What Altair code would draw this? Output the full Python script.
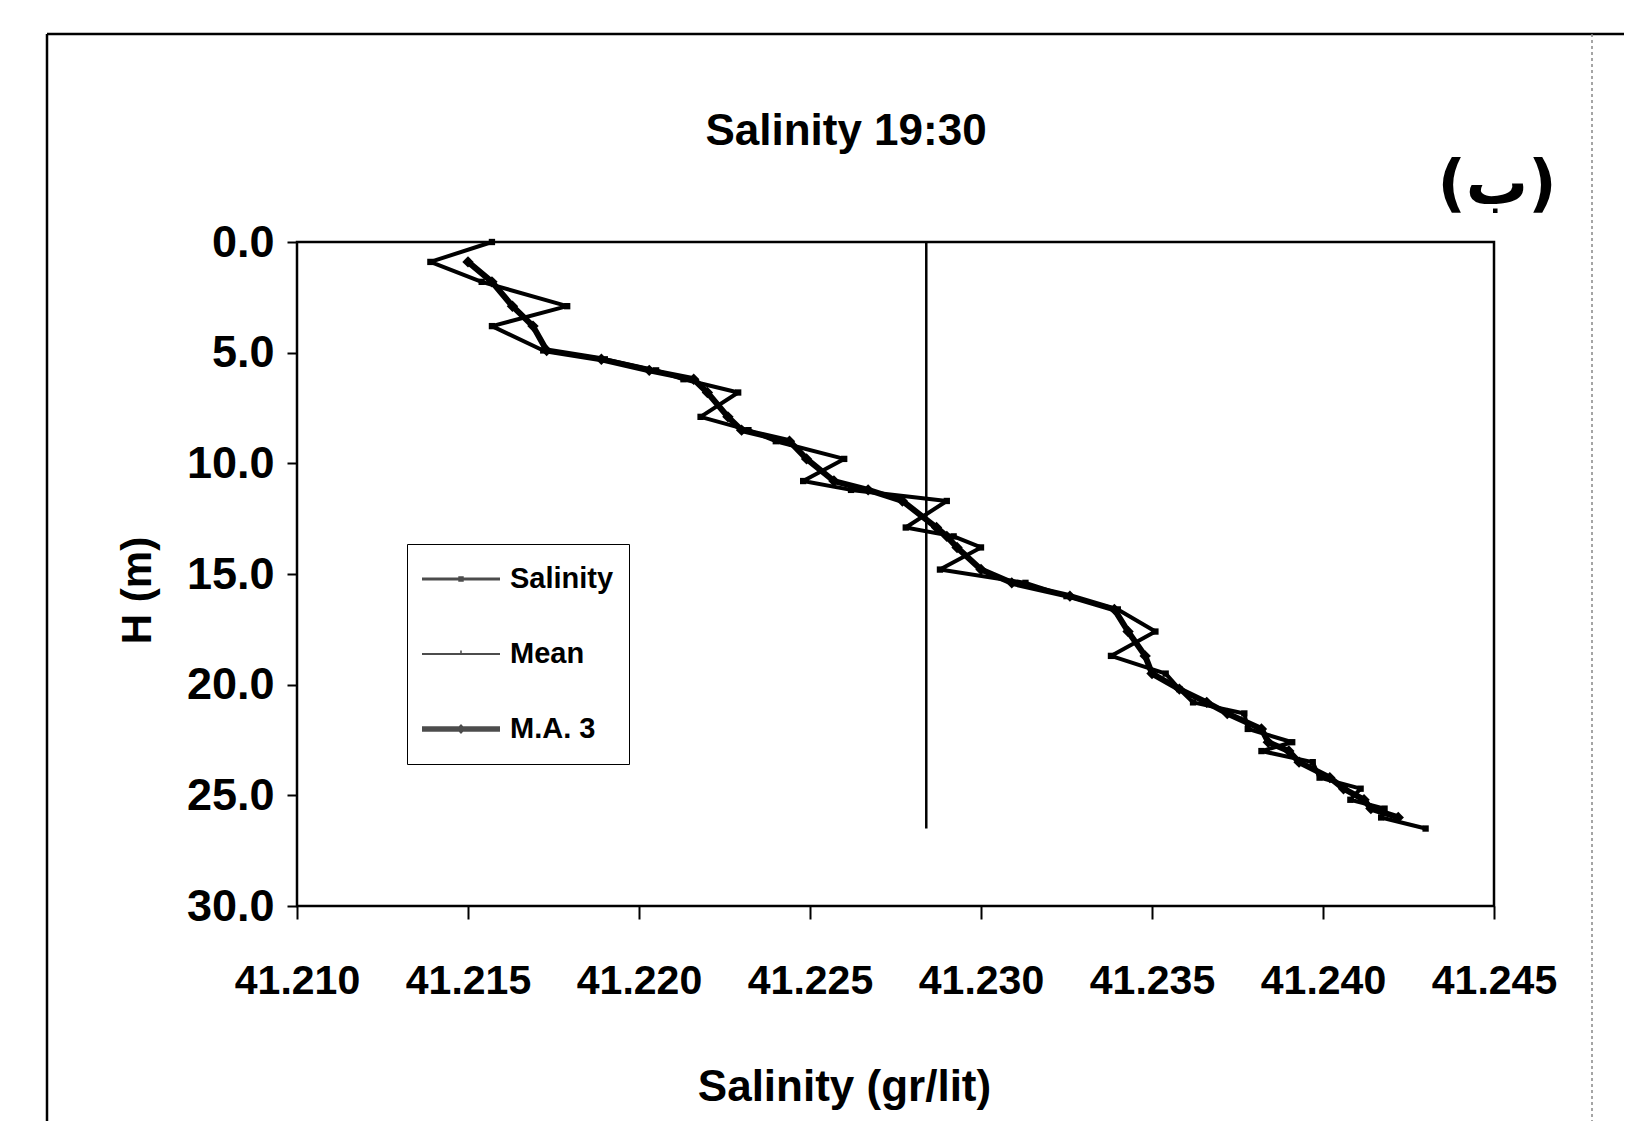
import altair as alt
import pandas as pd

# ---------------- data ----------------
sal_depth = [0.0, 0.9, 1.8, 2.9, 3.8, 4.9, 5.3, 5.8, 6.2, 6.8, 7.9, 8.5, 9.0, 9.8, 10.8,
             11.2, 11.7, 12.9, 13.3, 13.8, 14.8, 15.4, 16.0, 16.6, 17.6, 18.7, 19.5, 20.2,
             20.8, 21.3, 22.0, 22.6, 23.0, 23.5, 24.2, 24.7, 25.2, 25.6, 26.0, 26.5]
sal_values = [41.2157, 41.2139, 41.2154, 41.2179, 41.2157, 41.2172, 41.2190, 41.2205, 41.2213,
              41.2229, 41.2218, 41.2232, 41.2240, 41.2260, 41.2248, 41.2262, 41.2290, 41.2278,
              41.2292, 41.2300, 41.2288, 41.2313, 41.2325, 41.2340, 41.2351, 41.2338, 41.2354,
              41.2358, 41.2362, 41.2377, 41.2378, 41.2391, 41.2382, 41.2397, 41.2399, 41.2411,
              41.2408, 41.2418, 41.2417, 41.2430]

ma_depth = [0.9, 1.8, 2.9, 3.8, 4.9, 5.3, 5.8, 6.2, 6.8, 7.9, 8.5, 9.0, 9.8, 10.8, 11.2, 11.7,
            12.9, 13.3, 13.8, 14.8, 15.4, 16.0, 16.6, 17.6, 18.7, 19.5, 20.2, 20.8, 21.3, 22.0,
            22.6, 23.0, 23.5, 24.2, 24.7, 25.2, 25.6, 26.0]
ma_values = [41.2150, 41.2157, 41.2163, 41.2169, 41.2173, 41.2189, 41.2203, 41.2216, 41.2220,
             41.2226, 41.2230, 41.2244, 41.2249, 41.2257, 41.2267, 41.2277, 41.2287, 41.2290,
             41.2293, 41.2300, 41.2309, 41.2326, 41.2339, 41.2343, 41.2348, 41.2350, 41.2358,
             41.2366, 41.2372, 41.2382, 41.2384, 41.2390, 41.2393, 41.2402, 41.2406, 41.2412,
             41.2414, 41.2422]

mean_value = 41.2284
mean_depth = [0.0, 26.5]

series_names = ["Salinity", "Mean", "M.A. 3"]
x_ticks = [41.210, 41.215, 41.220, 41.225, 41.230, 41.235, 41.240, 41.245]
y_ticks = [0, 5, 10, 15, 20, 25, 30]
chart_title = ["Salinity 19:30"]
x_title = "Salinity (gr/lit)"
y_title = "H (m)"
corner_label = ["(ب)"]

# ---------------- table ----------------
rows = []
for i, (d, v) in enumerate(zip(sal_depth, sal_values)):
    rows.append({"series": "Salinity", "depth": d, "sal": v, "idx": i})
for i, d in enumerate(mean_depth):
    rows.append({"series": "Mean", "depth": d, "sal": mean_value, "idx": i})
for i, (d, v) in enumerate(zip(ma_depth, ma_values)):
    rows.append({"series": "M.A. 3", "depth": d, "sal": v, "idx": i})
df = pd.DataFrame(rows)

FONT = "Liberation Sans, Arial, sans-serif"
W, H = 1197, 664

x_enc = alt.X(
    "sal:Q",
    scale=alt.Scale(domain=[41.210, 41.245], nice=False, zero=False),
    axis=alt.Axis(
        values=x_ticks, format=".3f", title=x_title, grid=False, domain=False,
        ticks=True, tickSize=13, tickWidth=2, tickColor="black",
        labelFont=FONT, labelFontSize=41, labelFontWeight="bold", labelColor="black",
        labelPadding=42, labelFlush=False, labelOverlap=False,
        titleFont=FONT, titleFontSize=44, titleFontWeight="bold", titleColor="black",
        titleX=547, titleY=194, titleAlign="center", titleBaseline="alphabetic",
    ),
)
y_enc = alt.Y(
    "depth:Q",
    scale=alt.Scale(domain=[0, 30], reverse=True, nice=False, zero=False),
    axis=alt.Axis(
        values=y_ticks, format=".1f", title=y_title, grid=False, domain=False,
        ticks=True, tickSize=10, tickWidth=2, tickColor="black",
        labelFont=FONT, labelFontSize=45, labelFontWeight="bold", labelColor="black",
        labelPadding=13, labelFlush=False, labelOverlap=False,
        titleFont=FONT, titleFontSize=42, titleFontWeight="bold", titleColor="black",
        titleX=-160, titleY=348, titleAlign="center", titleBaseline="middle",
    ),
)

base = alt.Chart(df).encode(x=x_enc, y=y_enc, order=alt.Order("idx:Q"))

mean_line = base.transform_filter(alt.datum.series == "Mean").mark_line(
    color="black", strokeWidth=2.5)
sal_line = base.transform_filter(alt.datum.series == "Salinity").mark_line(
    color="black", strokeWidth=4, strokeJoin="round")
sal_pts = base.transform_filter(alt.datum.series == "Salinity").mark_point(
    filled=True, shape="square", size=40, color="black", opacity=1)
ma_line = base.transform_filter(alt.datum.series == "M.A. 3").mark_line(
    color="black", strokeWidth=6, strokeJoin="round")
ma_pts = base.transform_filter(alt.datum.series == "M.A. 3").mark_point(
    filled=True, shape="diamond", size=130, color="black", opacity=1)

# legend symbols: line + marker drawn as filled paths
p_sal = "M-1,-0.04H1V0.04H-1ZM-0.07,-0.07H0.07V0.07H-0.07Z"
p_mean = "M-1,-0.028H1V0.028H-1ZM-0.02,-0.09H0.02V0.02H-0.02Z"
p_ma = "M-1,-0.07H1V0.07H-1ZM-0.12,0L0,-0.13L0.12,0L0,0.13Z"

legend_layer = base.transform_filter("false").mark_point(filled=True, color="black").encode(
    shape=alt.Shape(
        "series:N",
        scale=alt.Scale(domain=series_names, range=[p_sal, p_mean, p_ma]),
        legend=alt.Legend(
            title=None, orient="none", legendX=110, legendY=302, direction="vertical",
            symbolSize=6084, symbolStrokeWidth=0, symbolFillColor="black",
            labelFont=FONT, labelFontSize=29, labelFontWeight="bold", labelColor="black",
            labelOffset=10, padding=15, rowPadding=35, clipHeight=40,
            strokeColor="black", fillColor="white",
        ),
    )
)

one = pd.DataFrame({"label": corner_label, "title": chart_title})
frame_top = alt.Chart(one).mark_rule(color="black", strokeWidth=2.5).encode(
    x=alt.value(-250), x2=alt.value(1330), y=alt.value(-208))
frame_left = alt.Chart(one).mark_rule(color="black", strokeWidth=2.5).encode(
    x=alt.value(-250), y=alt.value(-208), y2=alt.value(900))
frame_right = alt.Chart(one).mark_rule(color="#888888", strokeWidth=1.5, strokeDash=[3, 3]).encode(
    x=alt.value(1295), y=alt.value(-208), y2=alt.value(900))
corner = alt.Chart(one).mark_text(
    font="DejaVu Sans", fontSize=62, fontWeight="bold", color="black",
    align="center", baseline="middle").encode(
    text="label:N", x=alt.value(1200), y=alt.value(-57))
title_text = alt.Chart(one).mark_text(
    font=FONT, fontSize=44, fontWeight="bold", color="black",
    align="center", baseline="alphabetic").encode(
    text="title:N", x=alt.value(549), y=alt.value(-97))

chart = alt.layer(
    frame_top, frame_left, frame_right,
    mean_line, sal_line, sal_pts, ma_line, ma_pts, legend_layer, corner, title_text,
).properties(
    width=W, height=H,
    padding={"left": 289, "top": 234, "right": 130, "bottom": 215},
    autosize=alt.AutoSizeParams(type="none"),
    background="white",
).configure_view(stroke="black", strokeWidth=2.5)

chart.save("out.html", embed_options={"renderer": "svg", "actions": False})
